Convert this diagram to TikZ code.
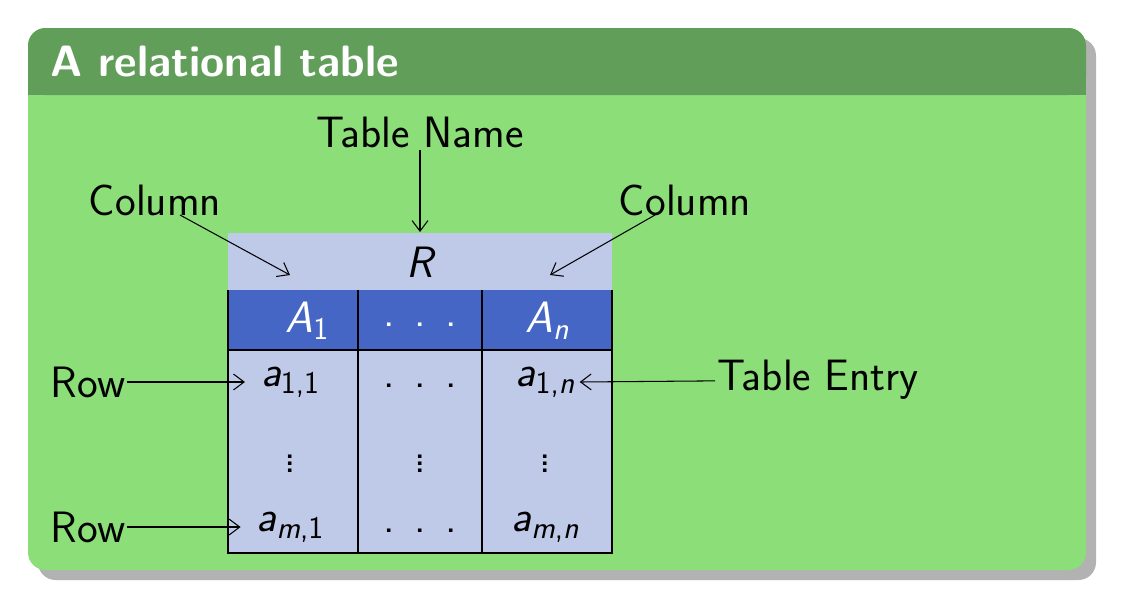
\documentclass[tikz,border=0pt]{standalone}
\usetikzlibrary{positioning,arrows.meta}
\definecolor{hdgreen}{rgb}{0.38,0.62,0.35}
\definecolor{bdgreen}{rgb}{0.55,0.87,0.47}
\definecolor{ltblue}{rgb}{0.75,0.79,0.91}
\definecolor{dkblue}{rgb}{0.27,0.4,0.77}
\newcommand{\sv}[2]{{\slshape #1}\raisebox{-0.35ex}{\fontsize{18}{19}\selectfont #2}}
\newcommand{\sdots}{.\hspace{0.45em}.\hspace{0.45em}.}
\tikzset{lbl/.style={font=\fontsize{25}{29}\selectfont\sffamily, inner sep=1pt},
  pt/.style={-{Straight Barb[length=6pt,width=9pt]}, semithick}}
\begin{document}
\begin{tikzpicture}[x=0.02cm,y=-0.02cm]
\useasboundingbox (0,0) rectangle (1144,610);
\fill[gray!60,rounded corners=10pt] (38,38) rectangle (1096,580);
\fill[bdgreen,rounded corners=10pt] (28,28) rectangle (1086,570);
\fill[hdgreen,rounded corners=10pt] (28,28) rectangle (1086,95);
\fill[hdgreen] (28,70) rectangle (1086,95);
\node[anchor=west, text=white, font=\fontsize{25}{29}\selectfont\sffamily\bfseries] (title) at (44,61) {A relational table};
% table
\fill[ltblue] (228,233) rectangle (612,553);
\fill[dkblue] (228,290) rectangle (612,350);
\draw[thick] (228,290) -- (228,553) -- (612,553) -- (612,290);
\draw[thick] (228,350) -- (612,350);
\draw[thick] (358,290) -- (358,553);
\draw[thick] (482,290) -- (482,553);
\node[lbl] (rel) at (420,262) {\slshape R};
\node[lbl, text=white] (h1) at (307,321) {\sv{A}{1}};
\node[lbl, text=white] (h2) at (420,325) {\sdots};
\node[lbl, text=white] (h3) at (547,321) {\sv{A}{\slshape n}};
\node[lbl] (c11) at (290,382) {\sv{a}{1,1}};
\node[lbl] (c12) at (420,386) {\sdots};
\node[lbl] (c13) at (545,382) {\sv{a}{1,{\slshape n}}};
\foreach \x/\n in {290/v1,420/v2,545/v3}
  \node[lbl, inner sep=0pt] (\n) at (\x,458) {$\vdots$};
\node[lbl] (c21) at (290,527) {\sv{a}{{\slshape m},1}};
\node[lbl] (c22) at (420,531) {\sdots};
\node[lbl] (c23) at (545,527) {\sv{a}{{\slshape m},{\slshape n}}};
% labels
\node[lbl] (tname) at (420,132) {Table Name};
\node[lbl] (colL) at (155,200) {Column};
\node[lbl] (colR) at (685,200) {Column};
\node[lbl] (row1) at (88,382) {Row};
\node[lbl] (row2) at (88,527) {Row};
\node[lbl] (entry) at (818,380) {Table Entry};
\coordinate (pR) at (420,232);
\coordinate (aL) at (180,215);
\coordinate (pL) at (290,275);
\coordinate (aR) at (655,215);
\coordinate (pRc) at (550,275);
\draw[pt] (tname) -- (pR);
\draw[pt] (aL) -- (pL);
\draw[pt] (aR) -- (pRc);
\draw[pt] (row1) -- ([xshift=-8pt]c11.west);
\draw[pt] (row2) -- ([xshift=-8pt]c21.west);
\draw[pt] (entry) -- ([xshift=2pt]c13.east);
\end{tikzpicture}
\end{document}
